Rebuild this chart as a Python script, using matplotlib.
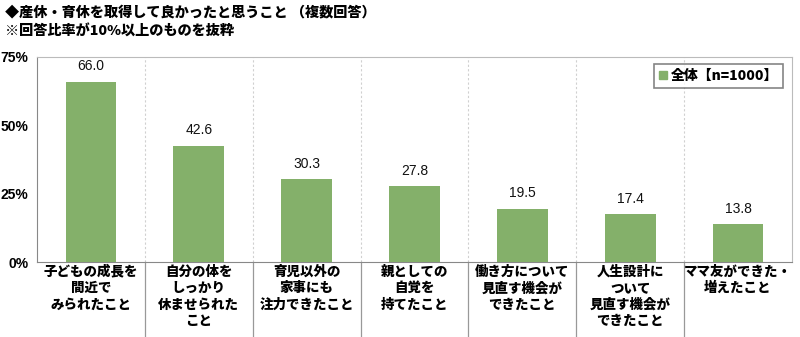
import matplotlib
matplotlib.use("Agg")
import matplotlib.pyplot as plt
from matplotlib.patches import Patch

plt.rcParams['font.family'] = ['Noto Sans CJK JP', 'DejaVu Sans']

# データ
categories = ["子どもの成長を\n間近で\nみられたこと",
              "自分の体を\nしっかり\n休ませられた\nこと",
              "育児以外の\n家事にも\n注力できたこと",
              "親としての\n自覚を\n持てたこと",
              "働き方について\n見直す機会が\nできたこと",
              "人生設計に\nついて\n見直す機会が\nできたこと",
              "ママ友ができた・\n増えたこと"]
values = [66.0, 42.6, 30.3, 27.8, 19.5, 17.4, 13.8]
series_name = "全体【n=1000】"
yticks = [0, 25, 50, 75]

green = '#84B06A'
W, H = 800, 337

fig = plt.figure(figsize=(8, 3.37), dpi=100)
ax = fig.add_axes([37 / W, 1 - 262 / H, (792 - 37) / W, (262 - 57) / H])

x = list(range(len(values)))
ax.bar(x, values, width=0.47, color=green, zorder=3)

for xi, v in zip(x, values):
    ax.annotate(f"{v:.1f}", (xi, v), xytext=(0, 6), textcoords='offset points',
                ha='center', va='bottom', fontsize=10, family='Liberation Sans',
                color='#111111')

ax.set_xlim(-0.5, len(values) - 0.5)
ax.set_ylim(0, 75)
ax.set_yticks(yticks)
ax.set_yticklabels([f"{t}%" for t in yticks], fontsize=10, fontweight='bold',
                   family='Liberation Sans')
ax.tick_params(axis='y', length=0, pad=6)

ax.set_xticks(x)
ax.set_xticklabels(categories, fontsize=9.7, fontweight='heavy', linespacing=1.22)
ax.tick_params(axis='x', length=0, pad=2)

# 区切り線
trans = ax.get_xaxis_transform()
for b in range(1, len(values)):
    ax.plot([b - 0.5, b - 0.5], [0, 1], transform=trans, color='#d0d0d0',
            lw=0.8, ls=(0, (2, 2)), zorder=1)
    ax.plot([b - 0.5, b - 0.5], [0, -0.37], transform=trans, color='#999999',
            lw=0.9, clip_on=False)

for s in ax.spines.values():
    s.set_color('#bbbbbb')
ax.spines['left'].set_color('#888888')
ax.spines['bottom'].set_color('#888888')

leg = ax.legend(handles=[Patch(color=green, label=series_name)], loc='upper right',
                bbox_to_anchor=(0.988, 0.966), borderaxespad=0,
                prop={'weight': 'heavy', 'size': 10},
                fancybox=False, edgecolor='#666666', handlelength=0.55, handleheight=0.55,
                handletextpad=0.3, borderpad=0.35)
leg.get_frame().set_linewidth(1.2)

fig.text(5 / W, 1 - 12 / H, "◆産休・育休を取得して良かったと思うこと （複数回答）",
         fontsize=10.2, fontweight='heavy', va='center', ha='left')
fig.text(5 / W, 1 - 32 / H, "※回答比率が10%以上のものを抜粋",
         fontsize=10.2, fontweight='heavy', va='center', ha='left')

fig.savefig("out.png", dpi=100)
